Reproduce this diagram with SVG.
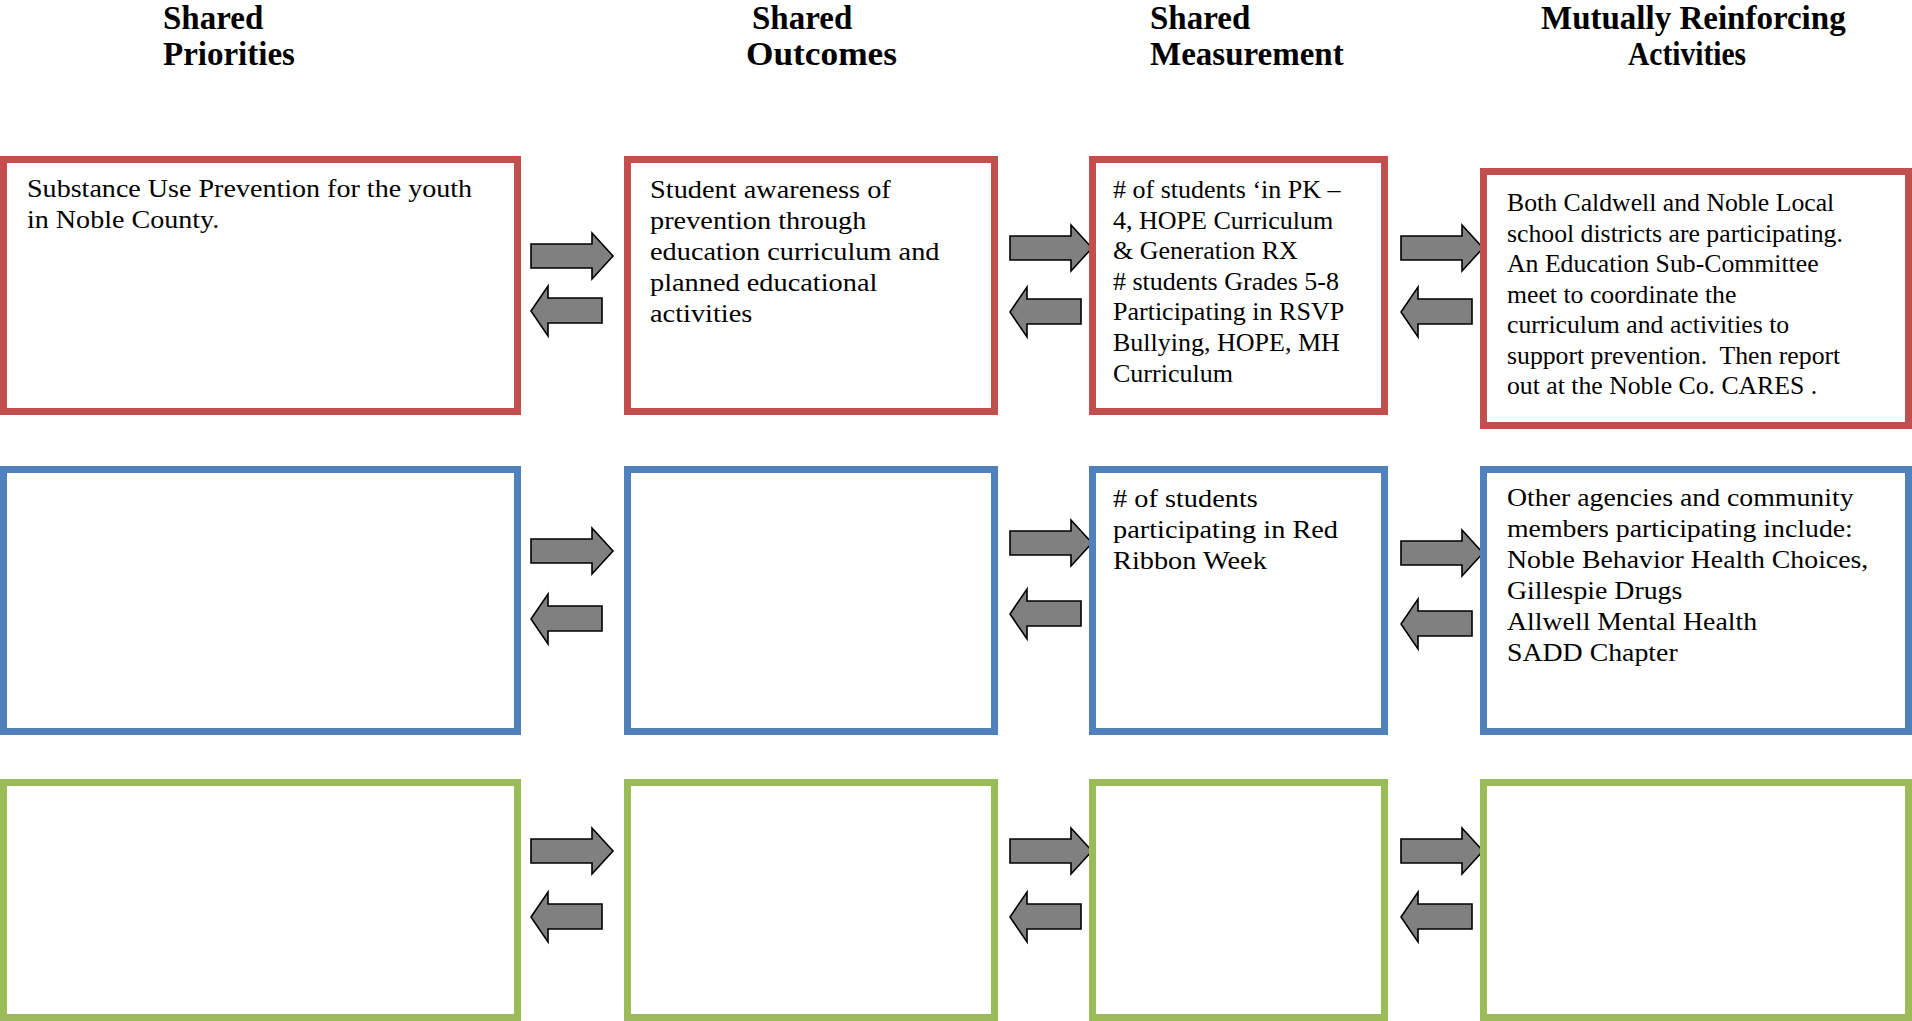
<svg xmlns="http://www.w3.org/2000/svg" width="1912" height="1021" viewBox="0 0 1912 1021">
<style>
.hd{font-family:"Liberation Serif",serif;font-weight:bold;font-size:33px;fill:#000}
.tx{font-family:"Liberation Serif",serif;font-size:26px;fill:#000}
.box{fill:#fff;stroke-width:7}
.red{stroke:#C0504D}
.blue{stroke:#4F81BD}
.green{stroke:#9BBB59}
.arr{fill:#808080;stroke:#000;stroke-width:1.6;stroke-linejoin:miter}
</style>
<defs>
<path id="ar" d="M0,11 H61 V0 L82,23 L61,46 V35 H0 Z"/>
<path id="al" d="M71,12 H17 V0 L0,25 L17,50 V37 H71 Z"/>
</defs>
<rect width="1912" height="1021" fill="#fff"/>
<g id="headers">
<text class="hd" x="163" y="29">Shared</text>
<text class="hd" x="163" y="65">Priorities</text>
<text class="hd" x="752" y="29">Shared</text>
<text class="hd" x="746" y="65" textLength="151" lengthAdjust="spacingAndGlyphs">Outcomes</text>
<text class="hd" x="1150" y="29">Shared</text>
<text class="hd" x="1150" y="65">Measurement</text>
<text class="hd" x="1541" y="29">Mutually Reinforcing</text>
<text class="hd" x="1628" y="65" textLength="118" lengthAdjust="spacingAndGlyphs">Activities</text>
</g>
<g id="connectors">
<use href="#ar" class="arr" x="531" y="233"/>
<use href="#al" class="arr" x="531" y="286"/>
<use href="#ar" class="arr" x="1010" y="225"/>
<use href="#al" class="arr" x="1010" y="287"/>
<use href="#ar" class="arr" x="1401" y="225"/>
<use href="#al" class="arr" x="1401" y="287"/>
<use href="#ar" class="arr" x="531" y="528"/>
<use href="#al" class="arr" x="531" y="594"/>
<use href="#ar" class="arr" x="1010" y="520"/>
<use href="#al" class="arr" x="1010" y="589"/>
<use href="#ar" class="arr" x="1401" y="530"/>
<use href="#al" class="arr" x="1401" y="599"/>
<use href="#ar" class="arr" x="531" y="828"/>
<use href="#al" class="arr" x="531" y="892"/>
<use href="#ar" class="arr" x="1010" y="828"/>
<use href="#al" class="arr" x="1010" y="892"/>
<use href="#ar" class="arr" x="1401" y="828"/>
<use href="#al" class="arr" x="1401" y="892"/>
</g>
<g id="r1c1">
<rect class="box red" x="3.5" y="159.5" width="514" height="252"/>
<g transform="translate(27,0) scale(1.08,1)">
<text class="tx" x="0" y="197">Substance Use Prevention for the youth</text>
<text class="tx" x="0" y="228">in Noble County.</text>
</g>
</g>
<g id="r1c2">
<rect class="box red" x="627.5" y="159.5" width="367" height="252"/>
<g transform="translate(650,0) scale(1.09,1)">
<text class="tx" x="0" y="198">Student awareness of</text>
<text class="tx" x="0" y="229">prevention through</text>
<text class="tx" x="0" y="260">education curriculum and</text>
<text class="tx" x="0" y="291">planned educational</text>
<text class="tx" x="0" y="322">activities</text>
</g>
</g>
<g id="r1c3">
<rect class="box red" x="1092.5" y="159.5" width="292" height="252"/>
<g transform="translate(1113,0) scale(1.0,1)">
<text class="tx" x="0" y="198"># of students ‘in PK –</text>
<text class="tx" x="0" y="229">4, HOPE Curriculum</text>
<text class="tx" x="0" y="259">&amp; Generation RX</text>
<text class="tx" x="0" y="290"># students Grades 5-8</text>
<text class="tx" x="0" y="320">Participating in RSVP</text>
<text class="tx" x="0" y="351">Bullying, HOPE, MH</text>
<text class="tx" x="0" y="382">Curriculum</text>
</g>
</g>
<g id="r1c4">
<rect class="box red" x="1483.5" y="171.5" width="425" height="254"/>
<g transform="translate(1507,0) scale(0.99,1)">
<text class="tx" x="0" y="211">Both Caldwell and Noble Local</text>
<text class="tx" x="0" y="242">school districts are participating.</text>
<text class="tx" x="0" y="272">An Education Sub-Committee</text>
<text class="tx" x="0" y="303">meet to coordinate the</text>
<text class="tx" x="0" y="333">curriculum and activities to</text>
<text class="tx" x="0" y="364" xml:space="preserve">support prevention.  Then report</text>
<text class="tx" x="0" y="394">out at the Noble Co. CARES .</text>
</g>
</g>
<g id="r2c1"><rect class="box blue" x="3.5" y="469.5" width="514" height="262"/></g>
<g id="r2c2"><rect class="box blue" x="627.5" y="469.5" width="367" height="262"/></g>
<g id="r2c3">
<rect class="box blue" x="1092.5" y="469.5" width="292" height="262"/>
<g transform="translate(1113,0) scale(1.09,1)">
<text class="tx" x="0" y="507"># of students</text>
<text class="tx" x="0" y="538">participating in Red</text>
<text class="tx" x="0" y="569">Ribbon Week</text>
</g>
</g>
<g id="r2c4">
<rect class="box blue" x="1483.5" y="469.5" width="425" height="262"/>
<g transform="translate(1507,0) scale(1.07,1)">
<text class="tx" x="0" y="506">Other agencies and community</text>
<text class="tx" x="0" y="537">members participating include:</text>
<text class="tx" x="0" y="568">Noble Behavior Health Choices,</text>
<text class="tx" x="0" y="599">Gillespie Drugs</text>
<text class="tx" x="0" y="630">Allwell Mental Health</text>
<text class="tx" x="0" y="661">SADD Chapter</text>
</g>
</g>
<g id="r3c1"><rect class="box green" x="3.5" y="782.5" width="514" height="235"/></g>
<g id="r3c2"><rect class="box green" x="627.5" y="782.5" width="367" height="235"/></g>
<g id="r3c3"><rect class="box green" x="1092.5" y="782.5" width="292" height="235"/></g>
<g id="r3c4"><rect class="box green" x="1483.5" y="782.5" width="425" height="235"/></g>
</svg>
